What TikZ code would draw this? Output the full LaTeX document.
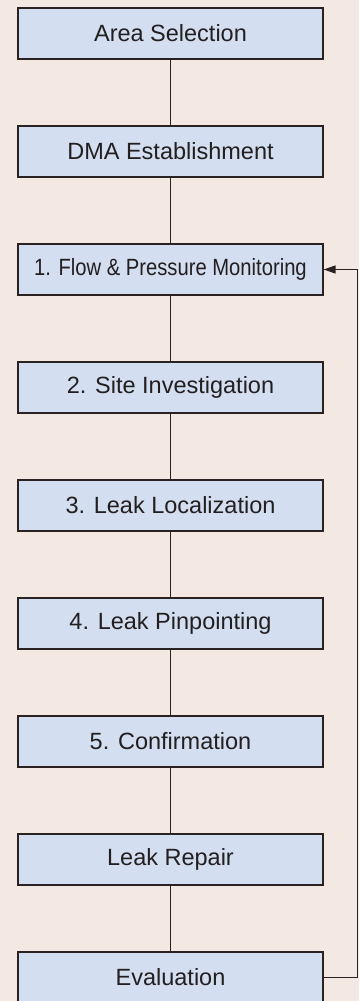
\documentclass[tikz,border=0pt]{standalone}
\usepackage{fontspec}
\setmainfont{Liberation Sans}
\usetikzlibrary{arrows.meta}
\definecolor{bgc}{HTML}{F4E8E2}
\definecolor{boxc}{HTML}{D3DEF0}
\definecolor{linec}{HTML}{2A2222}
\definecolor{txtc}{HTML}{231F20}
\begin{document}
\begin{tikzpicture}[x=1pt,y=-1pt,
  stepbox/.style={draw=linec,fill=boxc,line width=1.3pt,minimum width=305pt,minimum height=51pt,inner sep=0pt,text=txtc,font=\fontsize{23.5}{27}\selectfont},
  conn/.style={draw=linec,line width=1.5pt}]
\fill[bgc] (0,0) rectangle (359,1001);
\useasboundingbox (0,0) rectangle (359,1001);
\node[stepbox] (a) at (170.5,33.5) {Area Selection};
\node[stepbox] (b) at (170.5,151.5) {DMA Establishment};
\node[stepbox] (c) at (170.5,269.5) {\scalebox{0.86}[1]{1. Flow \& Pressure Monitoring}};
\node[stepbox] (d) at (170.5,387.5) {2. Site Investigation};
\node[stepbox] (e) at (170.5,505.5) {3. Leak Localization};
\node[stepbox] (f) at (170.5,623.5) {4. Leak Pinpointing};
\node[stepbox] (g) at (170.5,741.5) {5. Confirmation};
\node[stepbox] (h) at (170.5,859.5) {Leak Repair};
\node[stepbox] (i) at (170.5,977.5) {Evaluation};
\foreach \u/\v in {a/b,b/c,c/d,d/e,e/f,f/g,g/h,h/i}
  \draw[conn] (\u.south) -- (\v.north);
\coordinate (r) at (357.5,977.5);
\draw[conn,-{Triangle[length=12pt,width=8pt]}] (i.east) -- (r) |- (c.east);
\end{tikzpicture}
\end{document}
